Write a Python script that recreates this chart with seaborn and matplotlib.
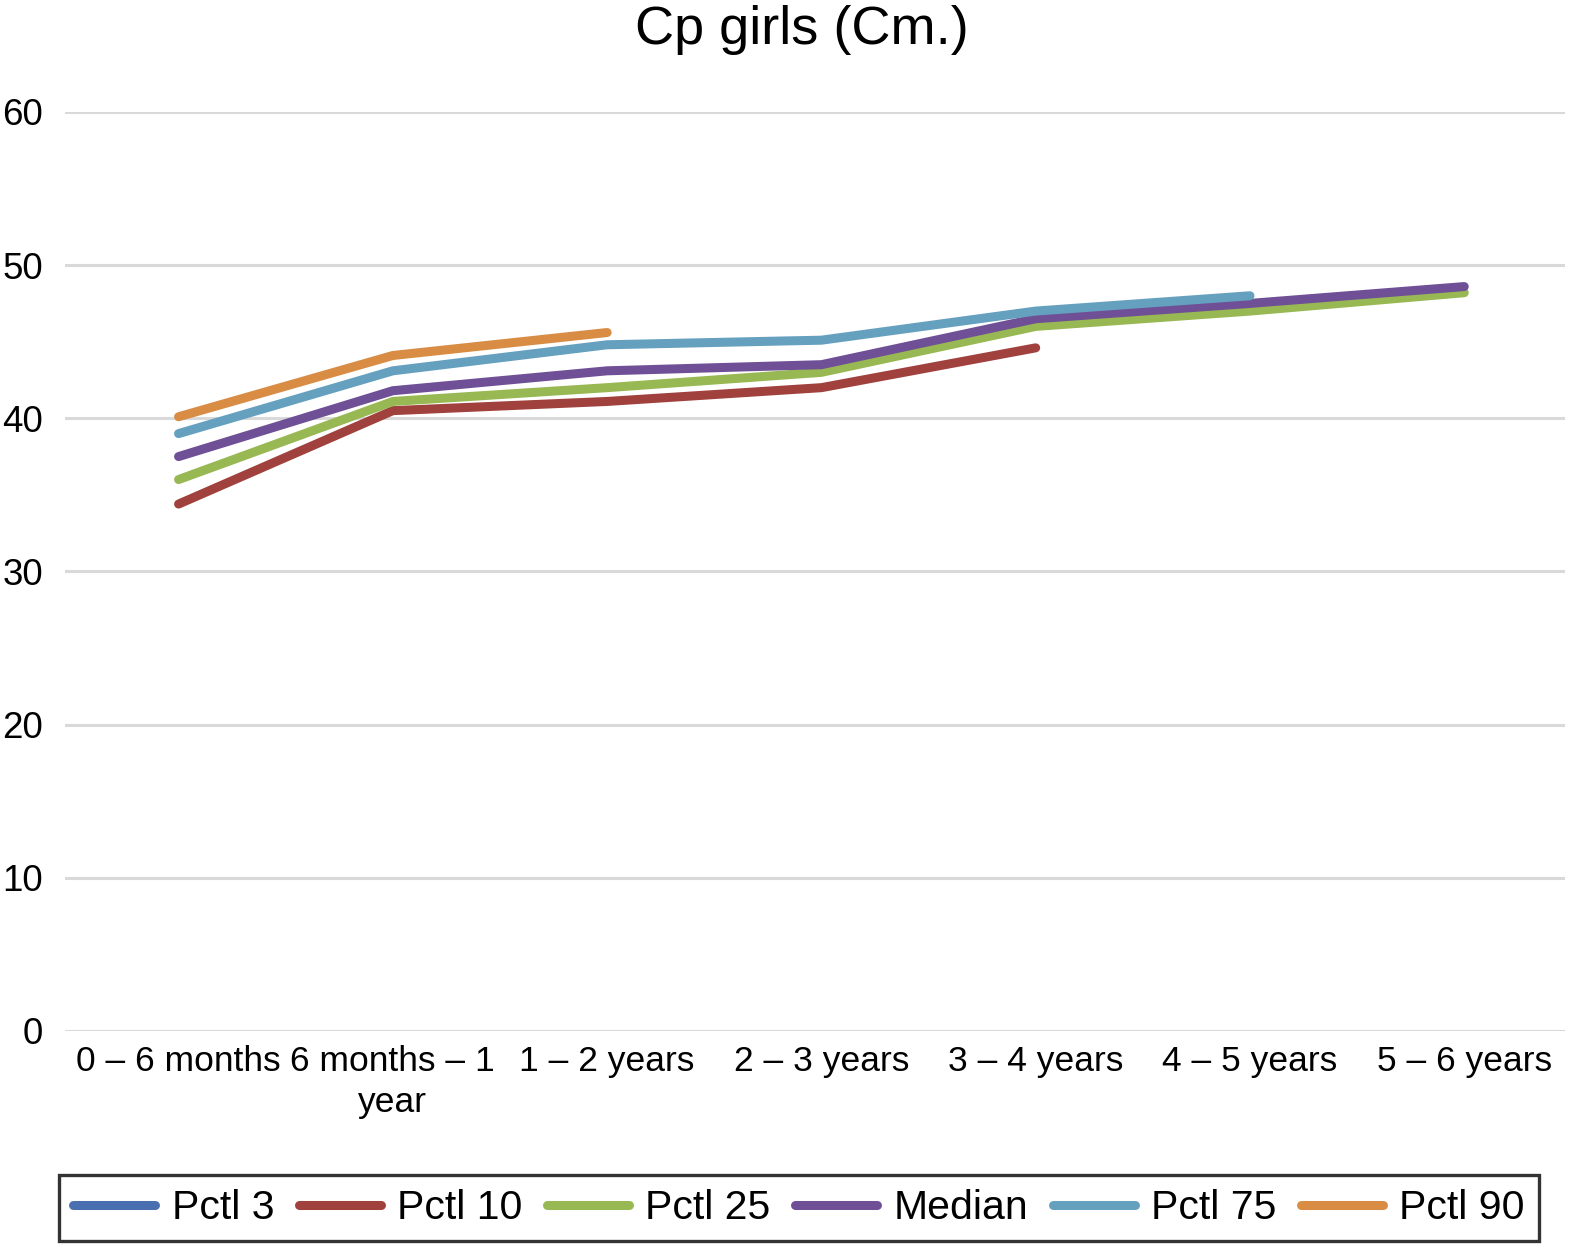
import matplotlib
matplotlib.use('Agg')

import numpy as np
import pandas as pd
import seaborn as sns
import matplotlib.pyplot as plt
from matplotlib.lines import Line2D

# data
age_groups = ["0 – 6 months", "6 months – 1\nyear", "1 – 2 years", "2 – 3 years",
              "3 – 4 years", "4 – 5 years", "5 – 6 years"]
series_names = ["Pctl 3", "Pctl 10", "Pctl 25", "Median", "Pctl 75", "Pctl 90"]

nan = np.nan
pctl_3 = [nan, nan, nan, nan, nan, nan, nan]
pctl_10 = [34.4, 40.5, 41.1, 42.0, 44.6, nan, nan]
pctl_25 = [36.0, 41.1, 42.0, 43.0, 46.0, 47.0, 48.2]
median = [37.5, 41.8, 43.1, 43.5, 46.5, 47.5, 48.6]
pctl_75 = [39.0, 43.1, 44.8, 45.1, 47.0, 48.0, nan]
pctl_90 = [40.1, 44.1, 45.6, nan, nan, nan, nan]

colors = ["#4a6fb0", "#a0413d", "#97b852", "#6f4f95", "#65a0bf", "#d88c44"]

values = [pctl_3, pctl_10, pctl_25, median, pctl_75, pctl_90]
df = pd.DataFrame({name: vals for name, vals in zip(series_names, values)})
df["pos"] = np.arange(len(age_groups))

sns.set_style("white")
plt.rcParams['font.family'] = ['Liberation Sans', 'DejaVu Sans']
plt.rcParams['text.color'] = 'black'
plt.rcParams['xtick.color'] = 'black'
plt.rcParams['ytick.color'] = 'black'

fig = plt.figure(figsize=(15.7, 12.51), dpi=100)
ax = fig.add_axes([0.0414, 0.1759, 0.9554, 0.7346])

for name, col in zip(series_names, colors):
    sub = df[["pos", name]].dropna()
    if len(sub) == 0:
        continue
    sns.lineplot(data=sub, x="pos", y=name, color=col, linewidth=6.5,
                 solid_capstyle="round", ax=ax, legend=False)

ax.set_xlim(-0.53, 6.47)
ax.set_ylim(0, 60)
ax.set_yticks(range(0, 61, 10))
ax.set_xticks(range(len(age_groups)))
ax.set_xticklabels(age_groups, fontsize=25.5, linespacing=1.3)
ax.tick_params(axis='y', labelsize=26.5, length=0, pad=16)
ax.tick_params(axis='x', length=0, pad=10)
ax.set_xlabel("")
ax.set_ylabel("")
ax.yaxis.grid(True, color="#d9d9d9", linewidth=2.2)
ax.xaxis.grid(False)
ax.set_axisbelow(True)
for sp in ax.spines.values():
    sp.set_visible(False)

fig.text(0.511, 0.976, "Cp girls (Cm.)", fontsize=39, ha="center", va="center")

handles = [Line2D([0], [0], color=c, linewidth=6.5, solid_capstyle="round") for c in colors]
leg = fig.legend(handles, series_names, loc="center", bbox_to_anchor=(0.509, 0.0344),
                 ncol=6, fontsize=29.5, frameon=True, fancybox=False,
                 handlelength=2.0, handletextpad=0.4, columnspacing=0.6,
                 borderpad=0.35, borderaxespad=0)
leg.get_frame().set_edgecolor("black")
leg.get_frame().set_linewidth(2.4)

fig.savefig("out.png", dpi=100)
